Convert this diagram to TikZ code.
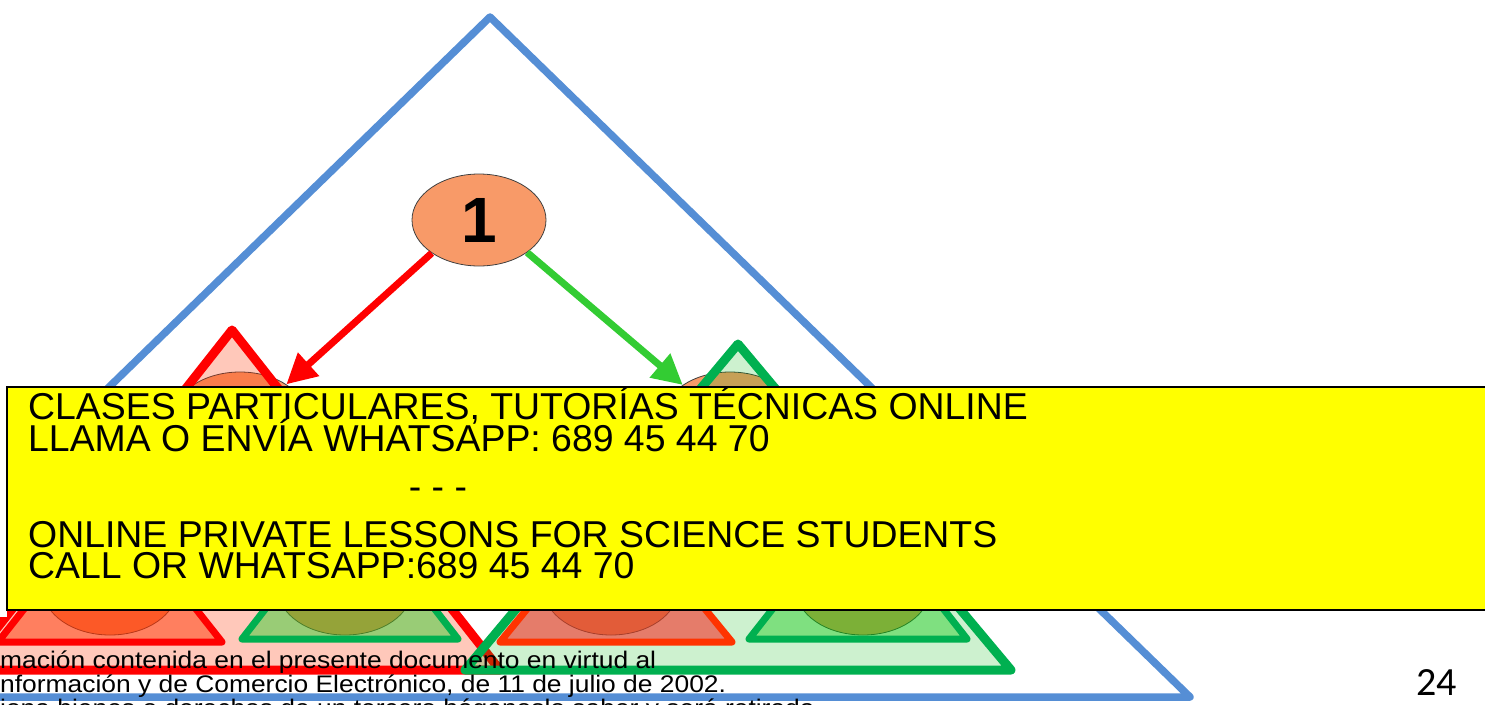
\documentclass[tikz,border=0pt]{standalone}
\usepackage{fontspec}
\setmainfont{Liberation Sans}
\newfontfamily\piefont[FakeStretch=1.1]{Liberation Sans}
\newfontfamily\paginafont{Carlito}
\usetikzlibrary{arrows.meta,shapes.geometric}
\definecolor{arbolazul}{HTML}{558ED5}
\definecolor{nodonaranja}{HTML}{F89A68}
\definecolor{flecharojo}{HTML}{FF0000}
\definecolor{flechaverde}{HTML}{33CC33}
\definecolor{bordeverde}{HTML}{00B050}
\definecolor{bordenaranja}{HTML}{FF3300}
\definecolor{rellenorojo}{RGB}{255,50,0}
\definecolor{rellenoverde}{RGB}{5,185,15}
\definecolor{rellenorojob}{RGB}{255,54,4}
\definecolor{rellenoverdeb}{RGB}{29,210,36}
\definecolor{rellenonaranjab}{RGB}{245,47,38}
\definecolor{rellenoverdec}{RGB}{12,200,10}
\definecolor{cartelamarillo}{HTML}{FFFF00}

\begin{document}
\begin{tikzpicture}[
  x=1pt,
  y=-1pt,
  every node/.style={font=\normalsize},
  nodo/.style={ellipse, draw=black!75, line width=0.8pt, fill=nodonaranja,
               minimum width=134pt, minimum height=92pt, inner sep=0pt,
               font=\fontsize{64}{64}\selectfont\bfseries},
  arbol/.style={arbolazul, line width=7.5pt, line join=round},
  trimedio/.style={line width=9pt, line join=round},
  tribajo/.style={line width=7pt, line join=round},
  flecha/.style={line width=7pt, -{Triangle[length=30pt,width=30pt]}},
  cartel/.style={draw=black, line width=2pt, fill=cartelamarillo},
  cartellinea/.style={anchor=base west, inner sep=0pt,
                      font=\fontsize{37.4}{32}\selectfont},
  pie/.style={anchor=base west, inner sep=0pt,
              font=\piefont\fontsize{24}{24}\selectfont}
]
  \useasboundingbox (0,0) rectangle (1485,704);
  \clip (0,0) rectangle (1485,704);

  %% ---- nodos del arbol ---------------------------------------------------
  \node[nodo] (raiz) at (479,220) {1};
  \node[nodo] (hijoizq) at (240,418) {};
  \node[nodo] (hijoder) at (730,418) {};
  \node[nodo] (nietoa) at (110,589) {};
  \node[nodo] (nietob) at (345,589) {};
  \node[nodo] (nietoc) at (611,589) {};
  \node[nodo] (nietod) at (863,589) {};

  %% ---- subarboles (triangulos) -------------------------------------------
  \draw[arbol] (490,17) -- (1190,697) -- (-210,697) -- cycle;

  \draw[trimedio, draw=flecharojo, fill=rellenorojo, fill opacity=0.27]
    (232,330) -- (500,670) -- (-36,670) -- cycle;
  \draw[trimedio, draw=bordeverde, fill=rellenoverde, fill opacity=0.2]
    (738,344) -- (1011,670) -- (465,670) -- cycle;

  %% cuatro subarboles de abajo, casi tapados por el cartel
  \draw[tribajo, draw=flecharojo, fill=rellenorojob, fill opacity=0.5]
    (110,500) -- (222,642) -- (-2,642) -- cycle;
  \draw[tribajo, draw=bordeverde, fill=rellenoverdeb, fill opacity=0.45]
    (350,500) -- (458,639) -- (242,639) -- cycle;
  \draw[tribajo, draw=bordenaranja, fill=rellenonaranjab, fill opacity=0.6]
    (616,500) -- (732,642) -- (500,642) -- cycle;
  \draw[tribajo, draw=bordeverde, fill=rellenoverdec, fill opacity=0.4]
    (858,500) -- (967,639) -- (749,639) -- cycle;

  %% ---- flechas -----------------------------------------------------------
  \draw[flecha, flecharojo] (raiz.-145) -- (hijoizq.36);
  \draw[flecha, flechaverde] (raiz.-34) -- (hijoder.145);

  %% ---- cartel amarillo ---------------------------------------------------
  \fill[white] (0,384) rectangle (7,617);
  \draw[cartel] (7,387) rectangle (1495,610);
  \node[cartellinea] (lineauno) at (28,419)
    {CLASES PARTICULARES, TUTORÍAS TÉCNICAS ONLINE};
  \node[cartellinea] (lineados) at (28,451)
    {LLAMA O ENVÍA WHATSAPP: 689 45 44 70};
  \node[cartellinea, anchor=base] (separador) at (438,499) {- - -};
  \node[cartellinea] (lineatres) at (28,547)
    {ONLINE PRIVATE LESSONS FOR SCIENCE STUDENTS};
  \node[cartellinea] (lineacuatro) at (28,578)
    {CALL OR WHATSAPP:689 45 44 70};

  %% ---- pie de pagina -----------------------------------------------------
  \node[pie] (pieuno) at (0,668)
    {mación contenida en el presente documento en virtud al};
  \node[pie] (piedos) at (0,692)
    {nformación y de Comercio Electrónico, de 11 de julio de 2002.};
  \node[pie] (pietres) at (0,716)
    {iona bienes o derechos de un tercero háganoslo saber y será retirada.};
  \node[anchor=base east, inner sep=0pt, font=\paginafont\fontsize{40}{40}\selectfont]
    (pagina) at (1457,695) {24};
\end{tikzpicture}
\end{document}
